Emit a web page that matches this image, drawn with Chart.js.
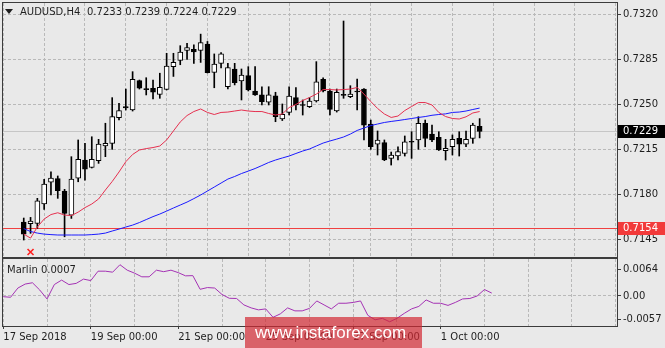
<!DOCTYPE html>
<html>
<head>
<meta charset="utf-8">
<script src="https://cdn.jsdelivr.net/npm/chart.js@4.4.1/dist/chart.umd.min.js"></script>
<style>
  html, body { margin: 0; padding: 0; background: #e9e9e9; }
  #wrap { position: relative; width: 665px; height: 348px; overflow: hidden; }
  #main { position: absolute; left: 0; top: 0; }
  #sub { position: absolute; left: 0; top: 258px; }
  #wm { position: absolute; left: 245px; top: 317px; width: 177px; height: 31px;
        background: rgba(210, 40, 50, 0.7); color: #fff; box-sizing: border-box;
        font: 17px "Liberation Sans", Arial, sans-serif; line-height: 31px; padding-left: 10px; }
</style>
</head>
<body>
<div id="wrap">
  <canvas id="main" width="665" height="258"></canvas>
  <canvas id="sub" width="665" height="90"></canvas>
  <div id="wm">www.instaforex.com</div>
</div>
<script>
var symbol = 'AUDUSD,H4';

// H4 candles, 17 Sep 2018 00:00 .. 2 Oct 2018 04:00
var openP = [0.71586, 0.71574, 0.71576, 0.71726, 0.71895, 0.71923, 0.71827, 0.71640, 0.71926, 0.72068,
  0.72011, 0.72063, 0.72177, 0.72198, 0.72397, 0.72484, 0.72457, 0.72685, 0.72624, 0.72626,
  0.72579, 0.72618, 0.72794, 0.72842, 0.72920, 0.72929, 0.72920, 0.72970, 0.72749, 0.72820,
  0.72638, 0.72776, 0.72683, 0.72724, 0.72605, 0.72574, 0.72517, 0.72568, 0.72387, 0.72439,
  0.72553, 0.72500, 0.72483, 0.72527, 0.72696, 0.72605, 0.72449, 0.72578, 0.72560, 0.72601,
  0.72620, 0.72348, 0.72192, 0.72203, 0.72081, 0.72099, 0.72120, 0.72208, 0.72224, 0.72354,
  0.72270, 0.72245, 0.72140, 0.72171, 0.72237, 0.72192, 0.72237, 0.72330];
var highP = [0.71617, 0.71622, 0.71770, 0.71918, 0.71977, 0.71944, 0.71840, 0.72094, 0.72224, 0.72198,
  0.72249, 0.72229, 0.72354, 0.72553, 0.72509, 0.72620, 0.72755, 0.72690, 0.72708, 0.72690,
  0.72743, 0.72898, 0.72898, 0.72957, 0.72976, 0.72963, 0.73047, 0.72990, 0.72893, 0.72903,
  0.72820, 0.72820, 0.72776, 0.72794, 0.72794, 0.72638, 0.72638, 0.72595, 0.72504, 0.72638,
  0.72631, 0.72535, 0.72553, 0.72833, 0.72708, 0.72620, 0.72620, 0.73149, 0.72646, 0.72698,
  0.72623, 0.72379, 0.72294, 0.72224, 0.72130, 0.72171, 0.72255, 0.72288, 0.72405, 0.72379,
  0.72340, 0.72288, 0.72229, 0.72263, 0.72288, 0.72294, 0.72354, 0.72390];
var lowP = [0.71446, 0.71498, 0.71537, 0.71684, 0.71796, 0.71770, 0.71471, 0.71614, 0.71899, 0.71912,
  0.72006, 0.72042, 0.72094, 0.72151, 0.72379, 0.72457, 0.72449, 0.72620, 0.72574, 0.72543,
  0.72548, 0.72613, 0.72718, 0.72809, 0.72851, 0.72819, 0.72827, 0.72745, 0.72630, 0.72784,
  0.72620, 0.72652, 0.72535, 0.72605, 0.72570, 0.72496, 0.72496, 0.72366, 0.72375, 0.72418,
  0.72457, 0.72418, 0.72476, 0.72519, 0.72597, 0.72418, 0.72441, 0.72548, 0.72553, 0.72457,
  0.72224, 0.72151, 0.72107, 0.72063, 0.72029, 0.72068, 0.72099, 0.72081, 0.72151, 0.72171,
  0.72210, 0.72142, 0.72068, 0.72107, 0.72099, 0.72171, 0.72198, 0.72240];
var closeP = [0.71492, 0.71593, 0.71751, 0.71881, 0.71928, 0.71829, 0.71653, 0.71920, 0.72073, 0.71996,
  0.72073, 0.72192, 0.72198, 0.72405, 0.72452, 0.72473, 0.72696, 0.72626, 0.72616, 0.72595,
  0.72634, 0.72799, 0.72828, 0.72908, 0.72942, 0.72908, 0.72981, 0.72747, 0.72815, 0.72893,
  0.72786, 0.72669, 0.72729, 0.72613, 0.72574, 0.72522, 0.72574, 0.72405, 0.72424, 0.72566,
  0.72496, 0.72492, 0.72527, 0.72677, 0.72605, 0.72462, 0.72595, 0.72570, 0.72581, 0.72597,
  0.72340, 0.72171, 0.72224, 0.72068, 0.72107, 0.72133, 0.72210, 0.72206, 0.72354, 0.72237,
  0.72224, 0.72146, 0.72159, 0.72229, 0.72192, 0.72229, 0.72340, 0.72290];

// moving averages
var maFast = [0.71492, 0.71461, 0.71547, 0.71609, 0.71644, 0.71658, 0.71640, 0.71636, 0.71663, 0.71698,
  0.71726, 0.71765, 0.71835, 0.71901, 0.71975, 0.72055, 0.72111, 0.72146, 0.72157, 0.72165,
  0.72177, 0.72224, 0.72294, 0.72364, 0.72414, 0.72445, 0.72465, 0.72438, 0.72422, 0.72438,
  0.72441, 0.72449, 0.72457, 0.72449, 0.72445, 0.72445, 0.72430, 0.72418, 0.72426, 0.72476,
  0.72500, 0.72531, 0.72554, 0.72581, 0.72616, 0.72616, 0.72613, 0.72616, 0.72620, 0.72632,
  0.72581, 0.72523, 0.72469, 0.72426, 0.72399, 0.72410, 0.72453, 0.72484, 0.72515, 0.72515,
  0.72496, 0.72438, 0.72406, 0.72391, 0.72387, 0.72404, 0.72434, 0.72445];
var maSlow = [0.71535, 0.71512, 0.71500, 0.71492, 0.71488, 0.71485, 0.71485, 0.71485, 0.71485, 0.71485,
  0.71488, 0.71492, 0.71500, 0.71516, 0.71531, 0.71547, 0.71562, 0.71582, 0.71605, 0.71628,
  0.71648, 0.71671, 0.71695, 0.71718, 0.71741, 0.71768, 0.71796, 0.71827, 0.71858, 0.71889,
  0.71920, 0.71940, 0.71963, 0.71982, 0.72002, 0.72025, 0.72049, 0.72068, 0.72084, 0.72099,
  0.72119, 0.72138, 0.72154, 0.72177, 0.72200, 0.72216, 0.72231, 0.72247, 0.72270, 0.72298,
  0.72317, 0.72336, 0.72348, 0.72360, 0.72368, 0.72375, 0.72383, 0.72391, 0.72399, 0.72406,
  0.72416, 0.72422, 0.72427, 0.72438, 0.72441, 0.72449, 0.72461, 0.72472];

// Marlin oscillator
var marlin = [-0.00017, -0.00031, 0.00190, 0.00286, 0.00317, 0.00143, -0.00071, 0.00274, 0.00381, 0.00274,
  0.00302, 0.00405, 0.00369, 0.00595, 0.00595, 0.00571, 0.00750, 0.00619, 0.00548, 0.00460,
  0.00460, 0.00619, 0.00583, 0.00619, 0.00560, 0.00483, 0.00488, 0.00160, 0.00202, 0.00190,
  0.00036, -0.00055, -0.00060, -0.00214, -0.00286, -0.00333, -0.00310, -0.00512, -0.00429, -0.00286,
  -0.00357, -0.00357, -0.00298, -0.00119, -0.00214, -0.00310, -0.00174, -0.00174, -0.00155, -0.00119,
  -0.00464, -0.00571, -0.00536, -0.00619, -0.00536, -0.00417, -0.00310, -0.00250, -0.00095, -0.00174,
  -0.00174, -0.00226, -0.00155, -0.00071, -0.00060, 0.00000, 0.00155, 0.00070];

var priceTicks = [0.7320, 0.7285, 0.7250, 0.7215, 0.7180, 0.7145];
var marlinTicks = [0.0064, 0, -0.0057];
var marlinTickLabels = ['0.0064', '0.00', '-0.0057'];
var dateTicks = [0, 12, 24, 36, 48, 60];
var dateLabels = ['17 Sep 2018', '19 Sep 00:00', '21 Sep 00:00', '25 Sep 00:00', '27 Sep 00:00', '1 Oct 00:00'];
var levelPrice = 0.7154;

var barsPerDay = 6;
var xMin = -0.04, xMax = 84.18;
var priceMin = 0.71314, priceMax = 0.73289;
var marlinMin = -0.0072, marlinMax = 0.00887;

var gridColor = '#b9b9b9';
var frameColor = '#3c3c3c';
var textColor = '#1e1e1e';

Chart.defaults.font.family = 'DejaVu Sans';
Chart.defaults.font.size = 10;
Chart.defaults.color = textColor;

var last = closeP.length - 1;

function dayGrid(scale) {
  var t = [];
  for (var v = 0; v <= xMax; v += barsPerDay) t.push({ value: v });
  scale.ticks = t;
}
function noPad(scale) {
  scale.paddingTop = 0; scale.paddingBottom = 0;
  scale.paddingLeft = 0; scale.paddingRight = 0;
}

var frame = {
  id: 'frame',
  afterDraw: function (chart) {
    var a = chart.chartArea, ctx = chart.ctx;
    ctx.save();
    ctx.strokeStyle = frameColor;
    ctx.lineWidth = 1;
    ctx.strokeRect(a.left - 0.5, a.top - 0.5, a.right - a.left + 1, a.bottom - a.top + 1);
    ctx.restore();
  }
};

function priceTag(chart, value, bg) {
  var ctx = chart.ctx, a = chart.chartArea;
  var y = Math.round(chart.scales.y.getPixelForValue(value));
  ctx.fillStyle = bg;
  ctx.fillRect(a.right + 1, y - 6, chart.width - a.right - 1, 13);
  ctx.fillStyle = '#ffffff';
  ctx.textAlign = 'left';
  ctx.textBaseline = 'middle';
  ctx.fillText(value.toFixed(4), a.right + 6, y + 0.5);
}

var overlays = {
  id: 'overlays',
  beforeDatasetsDraw: function (chart) {
    var a = chart.chartArea, ctx = chart.ctx, ys = chart.scales.y;
    ctx.save();
    ctx.lineWidth = 1;
    var yb = Math.round(ys.getPixelForValue(closeP[last])) + 0.5;
    ctx.strokeStyle = '#c6c6c6';
    ctx.beginPath(); ctx.moveTo(a.left, yb); ctx.lineTo(a.right, yb); ctx.stroke();
    var yl = Math.round(ys.getPixelForValue(levelPrice)) + 0.5;
    ctx.strokeStyle = '#f04040';
    ctx.beginPath(); ctx.moveTo(a.left, yl); ctx.lineTo(a.right, yl); ctx.stroke();
    ctx.restore();
  },
  afterDraw: function (chart) {
    var ctx = chart.ctx, a = chart.chartArea;
    ctx.save();
    ctx.font = '10px "DejaVu Sans"';
    priceTag(chart, closeP[last], '#000000');
    priceTag(chart, levelPrice, '#f23a3a');

    // title
    ctx.fillStyle = textColor;
    ctx.beginPath();
    ctx.moveTo(5, 9); ctx.lineTo(13, 9); ctx.lineTo(9, 14); ctx.closePath(); ctx.fill();
    ctx.textAlign = 'left';
    ctx.textBaseline = 'middle';
    ctx.fillText(symbol, 20, 12);
    ctx.fillText([openP[last], highP[last], lowP[last], closeP[last]].map(function (v) { return v.toFixed(4); }).join(' '), 87, 12);

    // object marker
    var mx = chart.scales.x.getPixelForValue(1), my = a.bottom - 5;
    ctx.strokeStyle = '#ff2020';
    ctx.lineWidth = 1.6;
    ctx.beginPath();
    ctx.moveTo(mx - 3, my - 3); ctx.lineTo(mx + 3, my + 3);
    ctx.moveTo(mx + 3, my - 3); ctx.lineTo(mx - 3, my + 3);
    ctx.stroke();
    ctx.restore();
  }
};

var wicks = [], bodies = [], bodyColors = [];
for (var i = 0; i < closeP.length; i++) {
  wicks.push({ x: i, y: [lowP[i], highP[i]] });
  bodies.push({ x: i, y: [openP[i], closeP[i]] });
  bodyColors.push(closeP[i] >= openP[i] ? '#ffffff' : '#000000');
}
var fastPts = maFast.map(function (v, i) { return { x: i, y: v }; });
var slowPts = maSlow.map(function (v, i) { return { x: i, y: v }; });
var marlinPts = marlin.map(function (v, i) { return { x: i, y: v }; });

new Chart(document.getElementById('main'), {
  type: 'bar',
  data: {
    datasets: [
      { type: 'line', data: fastPts, borderColor: '#e5304f', borderWidth: 1, pointRadius: 0, order: 0 },
      { type: 'line', data: slowPts, borderColor: '#1a1aff', borderWidth: 1, pointRadius: 0, order: 1 },
      { type: 'bar', data: bodies, backgroundColor: bodyColors, borderColor: '#000000', borderWidth: 1,
        borderSkipped: false, barThickness: 5, minBarLength: 1, grouped: false, order: 2 },
      { type: 'bar', data: wicks, backgroundColor: '#000000', barThickness: 1, grouped: false, order: 3 }
    ]
  },
  options: {
    responsive: false,
    animation: false,
    devicePixelRatio: 1,
    events: [],
    layout: { padding: { left: 3, top: 3, right: 0, bottom: 1 }, autoPadding: false },
    plugins: { legend: { display: false }, tooltip: { enabled: false } },
    scales: {
      x: {
        type: 'linear', min: xMin, max: xMax,
        afterBuildTicks: dayGrid,
        afterFit: function (s) { s.height = 0; noPad(s); },
        ticks: { display: false },
        grid: { color: gridColor, drawTicks: false },
        border: { display: false, dash: [3, 2] }
      },
      y: {
        position: 'right', min: priceMin, max: priceMax,
        afterBuildTicks: function (s) { s.ticks = priceTicks.map(function (v) { return { value: v }; }); },
        afterFit: function (s) { s.width = 48; noPad(s); },
        ticks: { padding: 2, color: textColor, callback: function (v) { return v.toFixed(4); } },
        grid: { color: gridColor, tickColor: frameColor, tickLength: 4, tickBorderDash: [] },
        border: { display: false, dash: [3, 2] }
      }
    }
  },
  plugins: [overlays, frame]
});

var subLabels = {
  id: 'subLabels',
  afterDraw: function (chart) {
    var ctx = chart.ctx;
    ctx.save();
    ctx.font = '10px "DejaVu Sans"';
    ctx.fillStyle = textColor;
    ctx.textAlign = 'left';
    ctx.textBaseline = 'middle';
    ctx.fillText('Marlin ' + marlin[last].toFixed(4), 7, 12);
    ctx.restore();
  }
};

new Chart(document.getElementById('sub'), {
  type: 'line',
  data: {
    datasets: [
      { data: marlinPts, borderColor: '#a432b4', borderWidth: 1, pointRadius: 0 }
    ]
  },
  options: {
    responsive: false,
    animation: false,
    devicePixelRatio: 1,
    events: [],
    layout: { padding: { left: 3, top: 1, right: 0, bottom: 0 }, autoPadding: false },
    plugins: { legend: { display: false }, tooltip: { enabled: false } },
    scales: {
      x: {
        type: 'linear', min: xMin, max: xMax,
        afterBuildTicks: dayGrid,
        afterFit: function (s) { s.height = 22; noPad(s); },
        ticks: {
          align: 'start', autoSkip: false, maxRotation: 0, padding: 2, color: textColor,
          callback: function (v) { var k = dateTicks.indexOf(v); return k >= 0 ? dateLabels[k] : ''; }
        },
        grid: {
          color: gridColor, tickLength: 3, tickBorderDash: [],
          tickColor: function (c) { return c.tick && dateTicks.indexOf(c.tick.value) >= 0 ? frameColor : 'rgba(0,0,0,0)'; }
        },
        border: { display: false, dash: [3, 2] }
      },
      y: {
        position: 'right', min: marlinMin, max: marlinMax,
        afterBuildTicks: function (s) { s.ticks = marlinTicks.map(function (v) { return { value: v }; }); },
        afterFit: function (s) { s.width = 48; noPad(s); },
        ticks: { padding: 2, color: textColor, callback: function (v, k) { return marlinTickLabels[k]; } },
        grid: {
          tickLength: 4, tickColor: frameColor, tickBorderDash: [],
          color: function (c) { return c.tick && c.tick.value === 0 ? gridColor : 'rgba(0,0,0,0)'; }
        },
        border: { display: false, dash: [3, 2] }
      }
    }
  },
  plugins: [subLabels, frame]
});
</script>
</body>
</html>
